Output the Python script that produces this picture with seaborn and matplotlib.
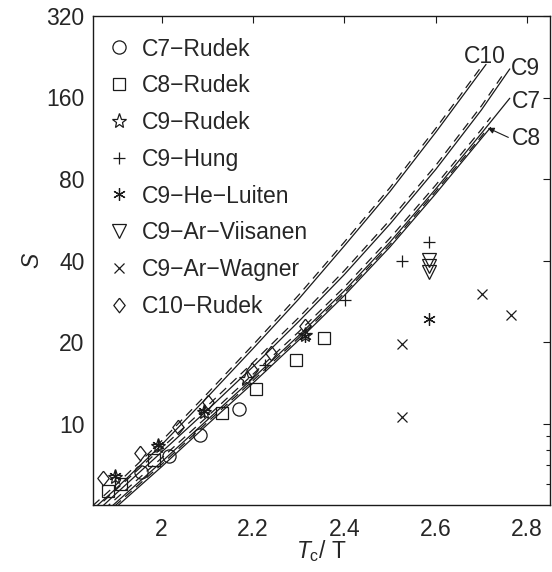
import numpy as np
import pandas as pd
import matplotlib
matplotlib.use("Agg")
import matplotlib.pyplot as plt
from matplotlib.ticker import FixedLocator, FixedFormatter, NullFormatter
import seaborn as sns

# ---------------- curve data (Tc/T, S) ----------------
c10_x = [1.85, 1.9, 2.0, 2.1, 2.2, 2.3, 2.4, 2.5, 2.6, 2.71]
c10_s = [4.82, 5.74, 8.34, 12.5, 18.9, 28.8, 45.3, 72.0, 119, 212]
c10d_x = [1.85, 1.9, 2.0, 2.1, 2.2, 2.3, 2.4, 2.5, 2.6, 2.70]
c10d_s = [4.98, 5.93, 8.62, 12.9, 19.5, 29.8, 46.8, 74.4, 123, 208]

c9_x = [1.85, 1.9, 2.0, 2.1, 2.2, 2.3, 2.4, 2.5, 2.6, 2.7, 2.762]
c9_s = [4.59, 5.50, 7.84, 11.2, 16.2, 23.8, 35.5, 54.6, 86.8, 144, 204]
c9d_x = [1.85, 1.9, 2.0, 2.1, 2.2, 2.3, 2.4, 2.5, 2.6, 2.7, 2.745]
c9d_s = [4.75, 5.69, 8.11, 11.6, 16.8, 24.6, 36.7, 56.5, 89.8, 149, 192]

c7_x = [1.85, 1.9, 2.0, 2.1, 2.2, 2.3, 2.4, 2.5, 2.6, 2.7, 2.762]
c7_s = [4.29, 5.10, 7.21, 10.3, 14.7, 21.1, 30.9, 46.8, 73.5, 118, 159]
c7d_x = [1.85, 1.9, 2.0, 2.1, 2.2, 2.3, 2.4, 2.5, 2.6, 2.7, 2.72]
c7d_s = [4.43, 5.27, 7.45, 10.6, 15.2, 21.8, 31.9, 48.4, 76.0, 122, 135]

c8_x = [1.85, 1.9, 2.0, 2.1, 2.2, 2.3, 2.4, 2.5, 2.6, 2.7, 2.72]
c8_s = [4.12, 4.90, 6.92, 9.9, 14.1, 20.3, 29.7, 44.9, 70.6, 113, 124]
c8d_x = [1.85, 1.9, 2.0, 2.1, 2.2, 2.3, 2.4, 2.5, 2.6, 2.7, 2.71]
c8d_s = [4.2, 5.0, 7.06, 10.1, 14.4, 20.7, 30.3, 45.8, 72.0, 115, 121]

# ---------------- experimental data ----------------
c7_rudek_x = [1.956, 2.016, 2.084, 2.17]
c7_rudek_s = [6.6, 7.58, 9.06, 11.35]
c8_rudek_x = [1.883, 1.912, 1.983, 2.133, 2.206, 2.295, 2.355]
c8_rudek_s = [5.65, 5.96, 7.32, 10.9, 13.4, 17.1, 20.7]
c9_rudek_x = [1.898, 1.993, 2.092, 2.185, 2.314]
c9_rudek_s = [6.36, 8.25, 11.0, 14.65, 21.2]
c9_hung_x = [2.227, 2.401, 2.527, 2.585]
c9_hung_s = [16.4, 28.6, 39.7, 46.7]
c9_heluiten_x = [1.898, 1.993, 2.092, 2.314, 2.585]
c9_heluiten_s = [6.4, 8.3, 11.1, 21.0, 24.4]
c9_viisanen_x = [2.585, 2.585, 2.585]
c9_viisanen_s = [40.2, 38.3, 36.2]
c9_wagner_x = [2.527, 2.527, 2.701, 2.764]
c9_wagner_s = [19.7, 10.6, 30.0, 25.2]
c10_rudek_x = [1.871, 1.953, 2.036, 2.101, 2.199, 2.239, 2.314]
c10_rudek_s = [6.3, 7.8, 9.7, 12.0, 15.7, 18.2, 23.0]

x_ticks = [2.0, 2.2, 2.4, 2.6, 2.8]
x_tick_labels = ["2", "2.2", "2.4", "2.6", "2.8"]
y_ticks = [10, 20, 40, 80, 160, 320]
y_tick_labels = ["10", "20", "40", "80", "160", "320"]
y_minor = [6, 7, 8, 9]

# ---------------- style ----------------
sns.set_theme(style="white")
plt.rcParams['font.family'] = ['Liberation Sans', 'DejaVu Sans']
plt.rcParams['font.size'] = 16.5
plt.rcParams['mathtext.fontset'] = 'custom'
plt.rcParams['mathtext.rm'] = 'Liberation Sans'
plt.rcParams['mathtext.it'] = 'Liberation Sans:italic'

FS = 16.5
fig = plt.figure(figsize=(5.52, 5.72), dpi=100)
ax = fig.add_axes([93 / 552, 1 - 505 / 572, (550 - 93) / 552, (505 - 16) / 572])

DASH = (0, (7, 4.5))
for cx, cs, ls in [(c10_x, c10_s, '-'), (c10d_x, c10d_s, DASH),
                   (c9_x, c9_s, '-'), (c9d_x, c9d_s, DASH),
                   (c7_x, c7_s, '-'), (c7d_x, c7d_s, DASH),
                   (c8_x, c8_s, '-'), (c8d_x, c8d_s, DASH)]:
    sns.lineplot(x=cx, y=cs, ax=ax, color='k', lw=0.9, linestyle=ls,
                 estimator=None, sort=False, legend=False)

diamond = [(0, 1), (0.78, 0), (0, -1), (-0.78, 0), (0, 1)]
series = [
    (c7_rudek_x, c7_rudek_s, 'o', 9.5, "C7\u2212Rudek"),
    (c8_rudek_x, c8_rudek_s, 's', 8.0, "C8\u2212Rudek"),
    (c9_rudek_x, c9_rudek_s, '*', 11.0, "C9\u2212Rudek"),
    (c9_hung_x, c9_hung_s, '+', 9.0, "C9\u2212Hung"),
    (c9_heluiten_x, c9_heluiten_s, (6, 2, 0), 9.0, "C9\u2212He\u2212Luiten"),
    (c9_viisanen_x, c9_viisanen_s, 'v', 10.0, "C9\u2212Ar\u2212Viisanen"),
    (c9_wagner_x, c9_wagner_s, 'x', 6.5, "C9\u2212Ar\u2212Wagner"),
    (c10_rudek_x, c10_rudek_s, diamond, 10.5, "C10\u2212Rudek"),
]
for sx, sy, mk, ms, lab in series:
    sns.lineplot(x=sx, y=sy, ax=ax, color='k', linestyle='none', marker=mk,
                 ms=ms, mfc='none', mec='k', mew=0.9, estimator=None,
                 sort=False, label=lab, legend=False)

ax.set_yscale('log')
ax.set_xlim(1.85, 2.85)
ax.set_ylim(5, 320)
ax.xaxis.set_major_locator(FixedLocator(x_ticks))
ax.xaxis.set_major_formatter(FixedFormatter(x_tick_labels))
ax.xaxis.set_minor_locator(FixedLocator([]))
ax.yaxis.set_major_locator(FixedLocator(y_ticks))
ax.yaxis.set_major_formatter(FixedFormatter(y_tick_labels))
ax.yaxis.set_minor_locator(FixedLocator(y_minor))
ax.yaxis.set_minor_formatter(NullFormatter())
ax.tick_params(which='both', direction='in', top=True, right=True,
               color='k', labelsize=FS, width=0.8)
ax.tick_params(which='major', length=5, pad=6)
ax.tick_params(axis='x', which='major', pad=9)
ax.tick_params(which='minor', length=3)
for sp in ax.spines.values():
    sp.set_color('k')
    sp.set_linewidth(1.0)
    sp.set_visible(True)

ax.set_xlabel(r'$T_{\rm c}$/ T', fontsize=FS, labelpad=-2)
ax.set_ylabel('S', fontsize=FS, fontstyle='italic', labelpad=2)

# curve labels
ax.text(2.707, 226, 'C10', ha='center', va='center', fontsize=FS)
ax.text(2.764, 204.6, 'C9', ha='left', va='center', fontsize=FS)
ax.text(2.766, 155, 'C7', ha='left', va='center', fontsize=FS)
ax.annotate('C8', xy=(2.714, 123.5), xytext=(2.766, 112.5),
            ha='left', va='center', fontsize=FS,
            arrowprops=dict(arrowstyle='-|>', color='k', lw=0.8,
                            shrinkA=0, shrinkB=0, mutation_scale=9,
                            relpos=(0, 0.5)))

ax.legend(loc='upper left', bbox_to_anchor=(0.032, 0.956), frameon=False,
          handlelength=1.0, handletextpad=0.5, labelspacing=0.6,
          borderaxespad=0, borderpad=0, fontsize=FS)

fig.savefig('out.png', dpi=100)
